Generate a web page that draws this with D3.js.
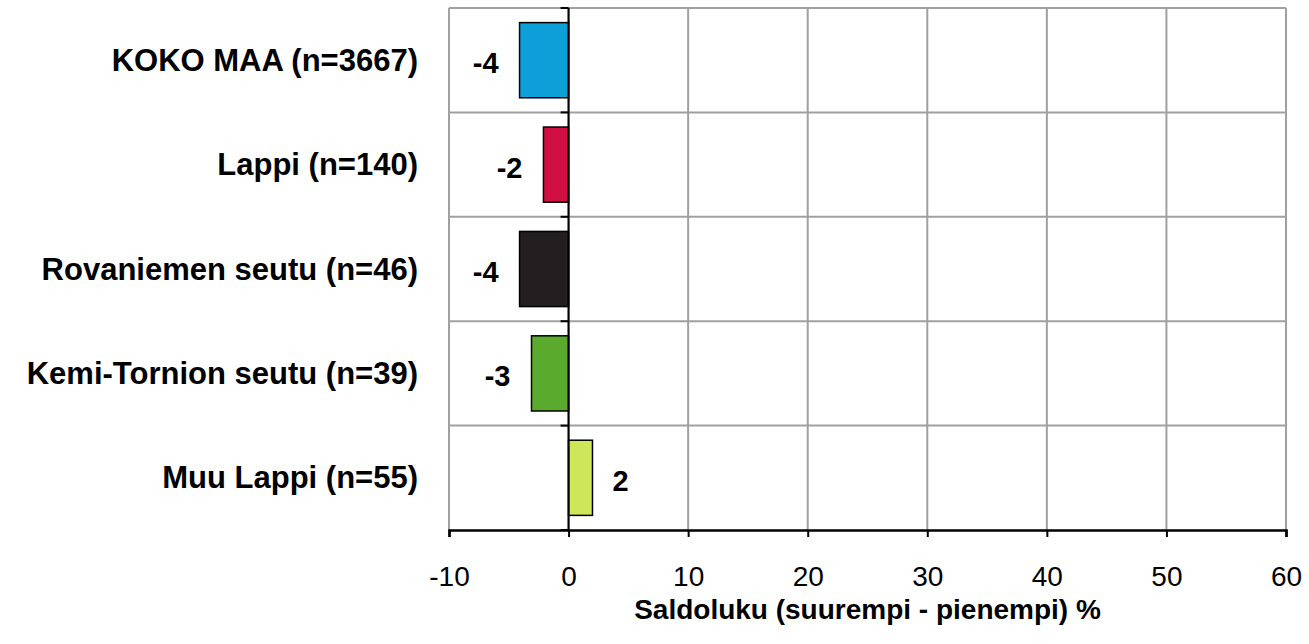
<!DOCTYPE html>
<html>
<head>
<meta charset="utf-8">
<script src="https://cdn.jsdelivr.net/npm/d3@7"></script>
<style>
  html, body { margin: 0; padding: 0; background: #fff; }
  svg { display: block; font-family: "Liberation Sans", Arial, sans-serif; }
</style>
</head>
<body>
<svg id="chart" width="1309" height="644"></svg>
<script>
const categories = ["KOKO MAA (n=3667)", "Lappi (n=140)", "Rovaniemen seutu (n=46)", "Kemi-Tornion seutu (n=39)", "Muu Lappi (n=55)"];
const values = [-4.1, -2.1, -4.1, -3.1, 2.0];
const barColors = ["#0d9fd8", "#d20f41", "#231f20", "#5aab2d", "#cde65a"];
const xTicks = [-10, 0, 10, 20, 30, 40, 50, 60];
const xTitle = "Saldoluku (suurempi - pienempi) %";

(function () {
const svg = d3.select("#chart");
const pL = 449, pR = 1286, pT = 8, pB = 530;
const fmt = v => String(Math.round(v));

const x = d3.scaleLinear().domain([-10, 60]).range([pL, pR]);
const y = d3.scaleBand().domain(categories).range([pT, pB]).paddingInner(0.28).paddingOuter(0.14);

// grid
const grid = svg.append("g");
grid.selectAll("line.v").data(xTicks).join("line")
  .attr("x1", d => x(d)).attr("x2", d => x(d))
  .attr("y1", pT).attr("y2", pB)
  .attr("stroke", "#a0a0a0").attr("stroke-width", 2);
const bounds = d3.range(categories.length + 1).map(i => pT + i * (pB - pT) / categories.length);
grid.selectAll("line.h").data(bounds.slice(0, -1)).join("line")
  .attr("x1", pL).attr("x2", pR)
  .attr("y1", d => d).attr("y2", d => d)
  .attr("stroke", "#a0a0a0").attr("stroke-width", 2);

// bars
svg.append("g").selectAll("rect").data(categories).join("rect")
  .attr("x", (d, i) => Math.min(x(0), x(values[i])))
  .attr("y", d => y(d))
  .attr("width", (d, i) => Math.abs(x(values[i]) - x(0)))
  .attr("height", y.bandwidth())
  .attr("fill", (d, i) => barColors[i])
  .attr("stroke", "#000").attr("stroke-width", 1.5);

// zero axis
const zx = x(0);
svg.append("line").attr("x1", zx).attr("x2", zx).attr("y1", pT).attr("y2", pB)
  .attr("stroke", "#000").attr("stroke-width", 2);
svg.append("g").selectAll("line").data(bounds).join("line")
  .attr("x1", zx - 8).attr("x2", zx).attr("y1", d => d).attr("y2", d => d)
  .attr("stroke", "#000").attr("stroke-width", 2);

// x axis
const xAxis = d3.axisBottom(x).tickValues(xTicks).tickSize(7).tickPadding(29).tickFormat(fmt);
const gx = svg.append("g").attr("transform", `translate(0,${pB})`).call(xAxis);
gx.select(".domain").attr("stroke", "#000").attr("stroke-width", 2.5);
gx.selectAll(".tick line").attr("stroke", "#000").attr("stroke-width", 2);
gx.selectAll(".tick text").attr("font-size", 28).attr("fill", "#000")
  .attr("font-family", "Liberation Sans, Arial, sans-serif").attr("dy", "0.71em");

// category labels
svg.append("g").selectAll("text").data(categories).join("text")
  .attr("x", 418).attr("y", d => y(d) + y.bandwidth() / 2)
  .attr("text-anchor", "end").attr("dominant-baseline", "central")
  .attr("font-size", 31).attr("font-weight", "bold").attr("fill", "#000")
  .text(d => d);

// value labels
svg.append("g").selectAll("text").data(categories).join("text")
  .attr("x", (d, i) => values[i] < 0 ? x(values[i]) - 21 : x(values[i]) + 20)
  .attr("y", d => y(d) + y.bandwidth() / 2 + 3)
  .attr("text-anchor", (d, i) => values[i] < 0 ? "end" : "start")
  .attr("dominant-baseline", "central")
  .attr("font-size", 29).attr("font-weight", "bold").attr("fill", "#000")
  .text((d, i) => fmt(values[i]));

// title
svg.append("text").attr("x", (pL + pR) / 2).attr("y", 609)
  .attr("text-anchor", "middle").attr("dominant-baseline", "central")
  .attr("font-size", 28).attr("font-weight", "bold").attr("fill", "#000")
  .text(xTitle);
})();
</script>
</body>
</html>
